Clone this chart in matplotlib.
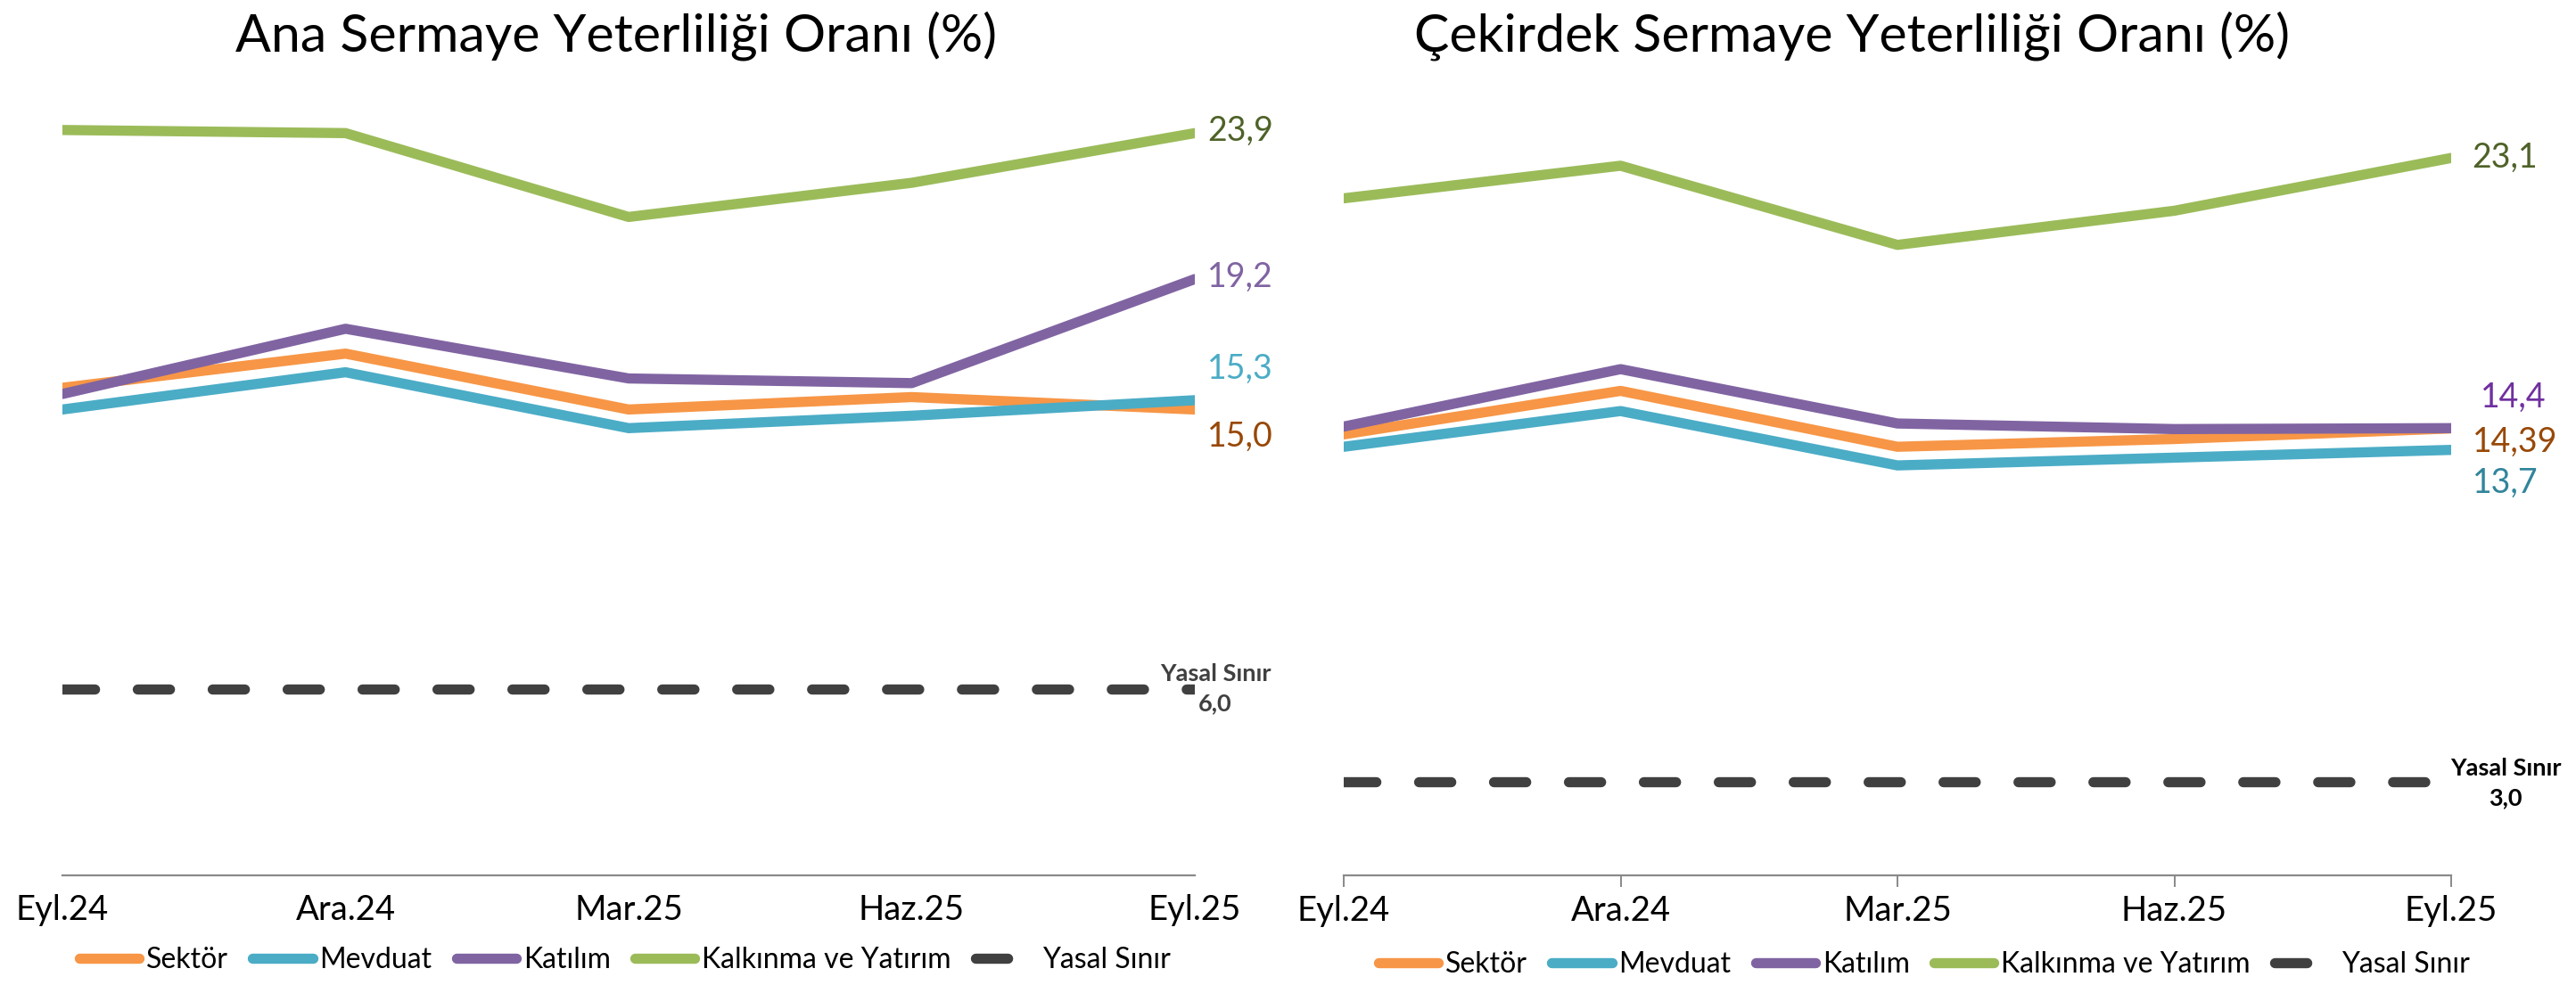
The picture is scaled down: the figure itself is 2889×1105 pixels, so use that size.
import matplotlib
matplotlib.use("Agg")
import matplotlib.pyplot as plt
from matplotlib.lines import Line2D

plt.rcParams['font.family'] = ['Lato', 'DejaVu Sans']
plt.rcParams['lines.scale_dashes'] = False

# veri
donemler = ["Eyl.24", "Ara.24", "Mar.25", "Haz.25", "Eyl.25"]
seriler = ["Sektör", "Mevduat", "Katılım", "Kalkınma ve Yatırım", "Yasal Sınır"]

ana_sektor = [15.7, 16.8, 15.0, 15.4, 15.0]
ana_mevduat = [15.0, 16.2, 14.4, 14.8, 15.3]
ana_katilim = [15.5, 17.6, 16.0, 15.85, 19.2]
ana_kalkinma = [24.0, 23.9, 21.2, 22.3, 23.9]
ana_yasal = [6.0, 6.0, 6.0, 6.0, 6.0]

cek_sektor = [14.2, 15.6, 13.8, 14.05, 14.39]
cek_mevduat = [13.8, 14.95, 13.2, 13.45, 13.7]
cek_katilim = [14.45, 16.3, 14.55, 14.37, 14.4]
cek_kalkinma = [21.8, 22.85, 20.3, 21.4, 23.1]
cek_yasal = [3.0, 3.0, 3.0, 3.0, 3.0]

renkler = ["#F79646", "#4BACC6", "#8064A2", "#9BBB59", "#404040"]
dash = (26.0, 34.5)
LW = 8.2

W, H = 2889, 1105
fig = plt.figure(figsize=(W / 100, H / 100), dpi=100)

ax1 = fig.add_axes([70 / W, (H - 982) / H, 1270 / W, 871 / H])
ax2 = fig.add_axes([1507 / W, (H - 982) / H, 1242 / W, 871 / H])


def ciz(ax, sektor, mevduat, katilim, kalkinma, yasal):
    x = range(len(donemler))
    for vals, c in zip([sektor, mevduat, katilim, kalkinma], renkler[:4]):
        ax.plot(x, vals, color=c, lw=LW, solid_capstyle='round', solid_joinstyle='round')
    ax.plot(x, yasal, color=renkler[4], lw=LW, dashes=dash, dash_capstyle='round')
    ax.set_xlim(0, len(donemler) - 1)
    ax.set_ylim(0, 25)
    ax.set_xticks(list(x))
    ax.set_xticklabels(donemler, fontsize=27.5)
    ax.set_yticks([])
    for s in ['left', 'right', 'top']:
        ax.spines[s].set_visible(False)
    ax.spines['bottom'].set_color('#898989')
    ax.spines['bottom'].set_linewidth(1.6)


ciz(ax1, ana_sektor, ana_mevduat, ana_katilim, ana_kalkinma, ana_yasal)
ciz(ax2, cek_sektor, cek_mevduat, cek_katilim, cek_kalkinma, cek_yasal)

ax1.tick_params(axis='x', length=0, pad=15)
ax2.tick_params(axis='x', length=9.5, width=1.4, color='#898989', pad=6)

# son değer etiketleri
def etiket(ax, val, txt, renk, dx, dy):
    ax.annotate(txt, xy=(4, val), xytext=(dx, dy), textcoords='offset points',
                ha='left', va='center', fontsize=27, color=renk, annotation_clip=False)

etiket(ax1, ana_kalkinma[-1], "23,9", "#4F6228", 10, 2)
etiket(ax1, ana_katilim[-1], "19,2", "#8064A2", 10, 2)
etiket(ax1, ana_mevduat[-1], "15,3", "#4BACC6", 10, 25)
etiket(ax1, ana_sektor[-1], "15,0", "#984807", 10, -22)

etiket(ax2, cek_kalkinma[-1], "23,1", "#4F6228", 17, 0)
etiket(ax2, cek_katilim[-1], "14,4", "#7030A0", 24, 25)
etiket(ax2, cek_sektor[-1], "14,39", "#984807", 17, -11)
etiket(ax2, cek_mevduat[-1], "13,7", "#31859C", 17, -27)

ax1.annotate("Yasal Sınır\n6,0", xy=(4, ana_yasal[-1]), xytext=(16.5, 0),
             textcoords='offset points', ha='center', va='center', fontsize=19.5,
             fontweight='bold', color='#404040', linespacing=1.45, annotation_clip=False)
ax2.annotate("Yasal Sınır\n3,0", xy=(4, cek_yasal[-1]), xytext=(44, -1),
             textcoords='offset points', ha='center', va='center', fontsize=19.5,
             fontweight='bold', color='black', linespacing=1.45, annotation_clip=False)

# başlıklar
fig.text(691 / W, 1 - 40 / H, "Ana Sermaye Yeterliliği Oranı (%)", ha='center', va='center', fontsize=42.5)
fig.text(2077 / W, 1 - 40 / H, "Çekirdek Sermaye Yeterliliği Oranı (%)", ha='center', va='center', fontsize=42.5)

# lejantlar
def lejant_handles():
    h = [Line2D([], [], color=c, lw=LW, solid_capstyle='round') for c in renkler[:4]]
    h.append(Line2D([], [], color=renkler[4], lw=LW, dashes=dash, dash_capstyle='round'))
    return h

for cx, cy in [(701, 1077), (2158, 1082)]:
    fig.legend(lejant_handles(), seriler, loc='center', bbox_to_anchor=(cx / W, 1 - cy / H),
               ncol=5, frameon=False, fontsize=23, handlelength=2.1, handletextpad=0.25,
               columnspacing=0.85, borderpad=0)

fig.savefig("out.png", dpi=100)
